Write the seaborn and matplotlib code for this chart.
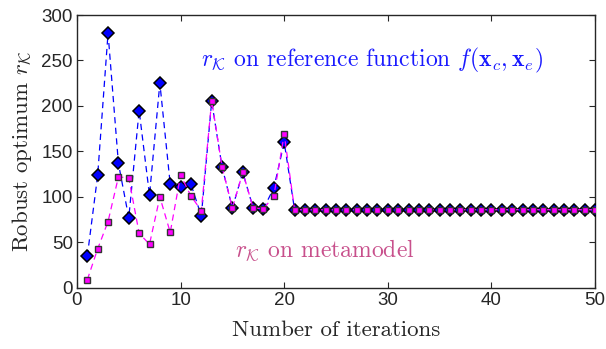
import matplotlib
matplotlib.use("Agg")
import matplotlib.pyplot as plt
import seaborn as sns
import numpy as np

iterations = list(range(1, 51))
ref_values = [35, 124, 280, 137, 77, 195, 102, 225, 114, 111,
              114, 79, 205, 133, 88, 127, 88, 87, 110, 160] + [86] * 30
meta_values = [9, 43, 73, 122, 121, 60, 48, 100, 61, 124,
               101, 85, 206, 133, 88, 127, 88, 87, 101, 169] + [86] * 30
x_ticks = [0, 10, 20, 30, 40, 50]
y_ticks = [0, 50, 100, 150, 200, 250, 300]

sns.set_style("ticks")
plt.rcParams["mathtext.fontset"] = "cm"
plt.rcParams["font.family"] = ["DejaVu Sans"]

fig = plt.figure(figsize=(6.06, 3.49), dpi=100)
ax = fig.add_axes([0.127, 0.175, 0.855, 0.782])

sns.lineplot(x=iterations, y=ref_values, ax=ax, color="#0000ff", linestyle=(0, (5, 3.5)),
             linewidth=0.9, marker="D", markersize=6.5, markerfacecolor="#0000ff",
             markeredgecolor="black", markeredgewidth=1.1, zorder=3)
sns.lineplot(x=iterations, y=meta_values, ax=ax, color="#ff00ff", linestyle=(0, (5, 3.5)),
             linewidth=0.9, marker="s", markersize=4.0, markerfacecolor="#ff00ff",
             markeredgecolor="#333333", markeredgewidth=1.0, zorder=4)

ax.set_xlim(0, 50)
ax.set_ylim(0, 300)
ax.set_xticks(x_ticks)
ax.set_yticks(y_ticks)
ax.tick_params(direction="in", length=4, width=0.8, top=True, right=True,
               labelsize=13.5, pad=3)
for lab in ax.get_xticklabels() + ax.get_yticklabels():
    lab.set_fontfamily("Liberation Sans")
for s in ax.spines.values():
    s.set_visible(True)
    s.set_linewidth(1.0)

ax.set_xlabel("Number of iterations", family="cmr10", fontsize=16.5, labelpad=8)
ax.set_ylabel(r"Robust optimum $r_\mathcal{K}$", family="cmr10", fontsize=16.5, labelpad=5)

ax.text(0.57, 0.835, r"$r_\mathcal{K}$ on reference function $f(\mathbf{x}_c,\mathbf{x}_e)$",
        transform=ax.transAxes, ha="center", va="center", color="#1a1aff",
        family="cmr10", fontsize=17)
ax.text(0.479, 0.139, r"$r_\mathcal{K}$ on metamodel",
        transform=ax.transAxes, ha="center", va="center", color="#c8508c",
        family="cmr10", fontsize=17)

fig.savefig("out.png", dpi=100)
